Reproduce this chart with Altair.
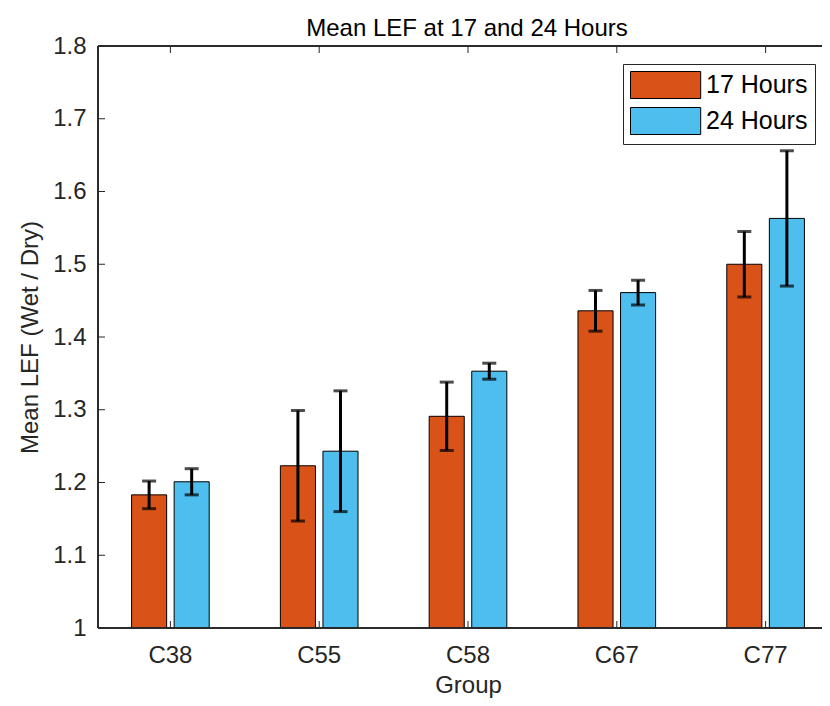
import altair as alt
import pandas as pd

groups = ["C38", "C55", "C58", "C67", "C77"]
series = ["17 Hours", "24 Hours"]
mean_17 = [1.183, 1.223, 1.291, 1.436, 1.500]
err_17 = [0.019, 0.076, 0.047, 0.028, 0.045]
mean_24 = [1.201, 1.243, 1.353, 1.461, 1.563]
err_24 = [0.018, 0.083, 0.011, 0.017, 0.093]
y_ticks = [1.0, 1.1, 1.2, 1.3, 1.4, 1.5, 1.6, 1.7, 1.8]
colors = ["#D95319", "#4DBEEE"]

rows = []
for g, m, e in zip(groups, mean_17, err_17):
    rows.append({"group": g, "series": series[0], "mean": m, "lo": m - e, "hi": m + e})
for g, m, e in zip(groups, mean_24, err_24):
    rows.append({"group": g, "series": series[1], "mean": m, "lo": m - e, "hi": m + e})
df = pd.DataFrame(rows)
tick_df = pd.DataFrame({"v": y_ticks})
grp_df = pd.DataFrame({"group": groups})

FONT = "Liberation Sans"
W, H = 724, 582

xs = alt.Scale(domain=groups, paddingInner=0, paddingOuter=0, range=[-2, 742])
ys = alt.Scale(domain=[1.0, 1.8], zero=False, nice=False)
xo = alt.Scale(domain=series, paddingInner=0.176, paddingOuter=0.836)

x_enc = alt.X("group:N", scale=xs, sort=groups,
              axis=alt.Axis(title="Group", labelAngle=0, domain=False, ticks=False,
                            labelFontSize=24, titleFontSize=24, labelPadding=15,
                            titlePadding=6, labelColor="#262626", titleColor="#262626",
                            labelFont=FONT, titleFont=FONT, titleFontWeight="normal"))
y_enc = alt.Y("mean:Q", scale=ys,
              axis=alt.Axis(title="Mean LEF (Wet / Dry)", values=y_ticks, format="~g",
                            domain=False, ticks=False, grid=False,
                            labelFontSize=24, titleFontSize=24, labelPadding=12,
                            titlePadding=10, labelColor="#262626", titleColor="#262626",
                            labelFont=FONT, titleFont=FONT, titleFontWeight="normal"))

legend_shape = "M-1,-1 L4.2,-1 L4.2,1 L-1,1 Z"

bars = alt.Chart(df).mark_bar(stroke="#000000", strokeWidth=1, clip=True).encode(
    x=x_enc,
    xOffset=alt.XOffset("series:N", scale=xo),
    y=y_enc,
    y2=alt.datum(1.0),
    color=alt.Color("series:N", scale=alt.Scale(domain=series, range=colors),
                    legend=alt.Legend(title=None, orient="none", legendX=525, legendY=18,
                                      symbolType=legend_shape, symbolSize=729,
                                      symbolStrokeColor="#000000", symbolStrokeWidth=1,
                                      symbolOpacity=1,
                                      labelFontSize=25, labelFont=FONT, labelColor="#000000",
                                      labelOffset=48, rowPadding=4,
                                      padding=7, strokeColor="#262626", fillColor="#ffffff")),
)

err_rule = alt.Chart(df).mark_rule(color="#000000", strokeWidth=3).encode(
    x=alt.X("group:N", scale=xs, sort=groups),
    xOffset=alt.XOffset("series:N", scale=xo),
    y=alt.Y("lo:Q", scale=ys),
    y2="hi:Q",
)
cap_hi = alt.Chart(df).mark_tick(color="#000000", thickness=3, size=14, orient="horizontal").encode(
    x=alt.X("group:N", scale=xs, sort=groups),
    xOffset=alt.XOffset("series:N", scale=xo),
    y=alt.Y("hi:Q", scale=ys),
)
cap_lo = alt.Chart(df).mark_tick(color="#000000", thickness=3, size=14, orient="horizontal").encode(
    x=alt.X("group:N", scale=xs, sort=groups),
    xOffset=alt.XOffset("series:N", scale=xo),
    y=alt.Y("lo:Q", scale=ys),
)

ytick_marks = alt.Chart(tick_df).mark_rule(color="#262626", strokeWidth=1).encode(
    y=alt.Y("v:Q", scale=ys),
    x=alt.value(0),
    x2=alt.value(7),
)
xtick_bottom = alt.Chart(grp_df).mark_rule(color="#262626", strokeWidth=1).encode(
    x=alt.X("group:N", scale=xs, sort=groups),
    y=alt.value(H),
    y2=alt.value(H - 7),
)
xtick_top = alt.Chart(grp_df).mark_rule(color="#262626", strokeWidth=1).encode(
    x=alt.X("group:N", scale=xs, sort=groups),
    y=alt.value(0),
    y2=alt.value(7),
)
frame_left = alt.Chart(grp_df).mark_rule(color="#262626", strokeWidth=1).encode(
    x=alt.value(0), y=alt.value(0), y2=alt.value(H),
)
frame_top = alt.Chart(grp_df).mark_rule(color="#262626", strokeWidth=1).encode(
    x=alt.value(0), x2=alt.value(W + 40), y=alt.value(0),
)
frame_bottom = alt.Chart(grp_df).mark_rule(color="#262626", strokeWidth=1).encode(
    x=alt.value(0), x2=alt.value(W + 40), y=alt.value(H),
)

chart = alt.layer(bars, err_rule, cap_hi, cap_lo, ytick_marks, xtick_bottom, xtick_top,
                  frame_left, frame_top, frame_bottom).properties(
    width=W, height=H,
    title=alt.TitleParams("Mean LEF at 17 and 24 Hours", fontSize=24, font=FONT,
                          fontWeight="normal", color="#000000", offset=10,
                          dy=17, dx=7, frame="group", anchor="middle"),
    autosize=alt.AutoSizeParams(type="none"),
    padding={"left": 90, "top": 38, "right": 0, "bottom": 70},
).configure_view(stroke=None).configure(background="#ffffff")

chart.save("out.html", embed_options={"renderer": "svg", "actions": False})
